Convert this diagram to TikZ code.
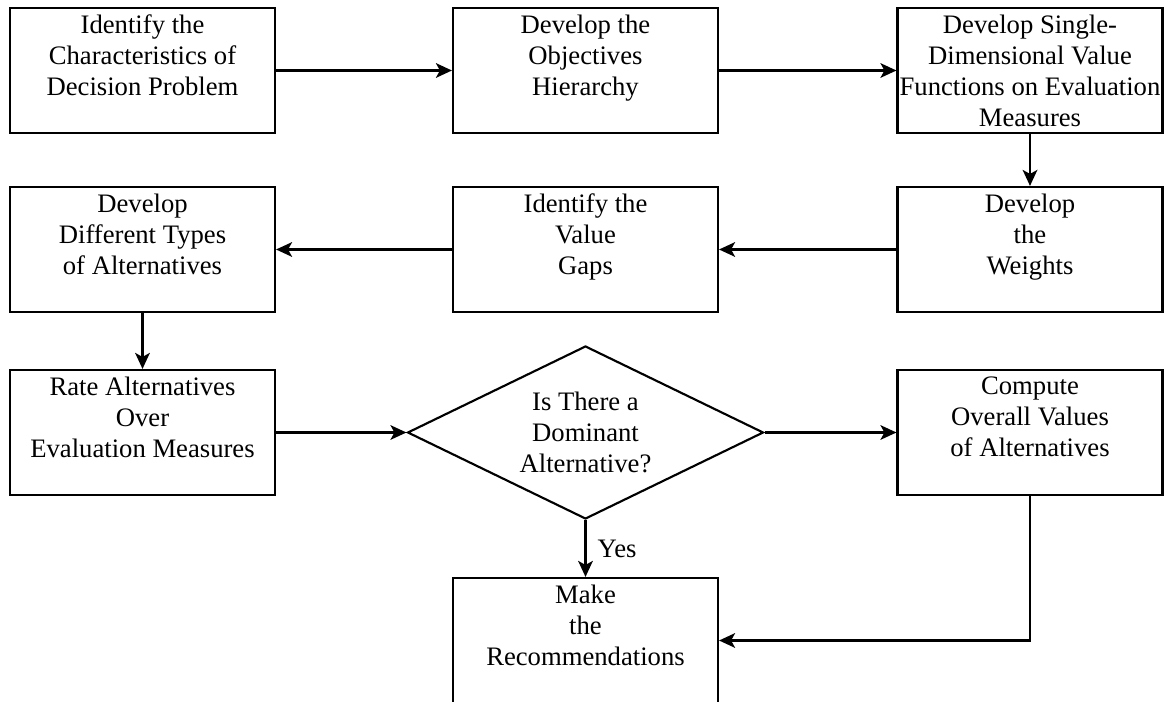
\documentclass[tikz,border=0pt]{standalone}
\usepackage{fontspec}
\setmainfont{LiberationSerif}[Extension=.ttf, UprightFont=*-Regular, BoldFont=*-Bold]
\usepackage{tikz}
\usetikzlibrary{shapes.geometric, arrows.meta, positioning, calc}

\begin{document}
\begin{tikzpicture}[x=0.75pt, y=-0.75pt, line width=1.6pt,
        every node/.style={font=\fontsize{20}{23.25}\selectfont},
        box/.style={draw, rectangle, align=center, inner sep=0pt, minimum width=198.75pt, minimum height=93.75pt},
        choice/.style={draw, diamond, align=center, inner sep=0pt, aspect=2.06, minimum width=267pt, minimum height=129.75pt},
        >={Stealth[length=12pt, width=11pt, inset=3pt]}]
        \useasboundingbox (0,0) rectangle (1165,702);

        \node[box] at (142.5,70.5) (ident) {Identify the\\Characteristics of\\Decision Problem\\ \mbox{}};
        \node[box] at (585.5,70.5) (obj) {Develop the\\Objectives\\Hierarchy\\ \mbox{}};
        \node[box] at (1030,70.5) (svf) {Develop Single-\\Dimensional Value\\Functions on Evaluation\\Measures};

        \node[box] at (142.5,249.5) (alt) {Develop\\Different Types\\of Alternatives\\ \mbox{}};
        \node[box] at (585.5,249.5) (gaps) {Identify the\\Value\\Gaps\\ \mbox{}};
        \node[box] at (1030,249.5) (wts) {Develop\\the\\Weights\\ \mbox{}};

        \node[box] at (142.5,432.5) (rate) {Rate Alternatives\\Over\\Evaluation Measures\\ \mbox{}};
        \node[choice] at (585.5,432.5) (dom) {Is There a\\Dominant\\Alternative?};
        \node[box] at (1030,432.5) (comp) {Compute\\Overall Values\\of Alternatives\\ \mbox{}};

        \node[box] at (585.5,640.5) (rec) {Make\\the\\Recommendations\\ \mbox{}};

        \draw[->] (ident) -- (obj);
        \draw[->] (obj) -- (svf);
        \draw[->] (svf) -- (wts);
        \draw[->] (wts) -- (gaps);
        \draw[->] (gaps) -- (alt);
        \draw[->] (alt) -- (rate);
        \draw[->] (rate) -- (dom);
        \draw[->] (dom) -- (comp);
        \draw[->] (dom) -- node[right, xshift=5pt] (yes) {Yes} (rec);
        \draw[->] (comp.south) |- (rec.east);
    \end{tikzpicture}
\end{document}
